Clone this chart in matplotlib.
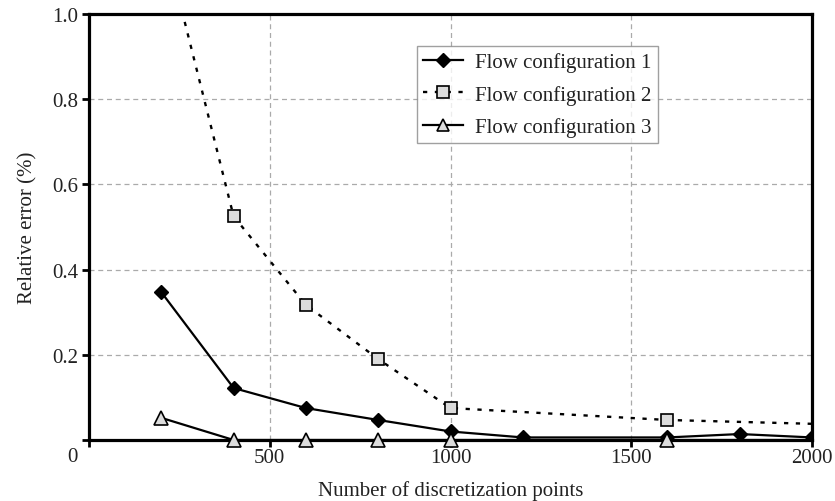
import matplotlib
matplotlib.use("Agg")
import matplotlib.pyplot as plt

plt.rcParams['font.family'] = ['Liberation Serif', 'DejaVu Serif']

# Data
x1 = [200, 400, 600, 800, 1000, 1200, 1600, 1800, 2000]
y1 = [0.347, 0.122, 0.075, 0.047, 0.020, 0.006, 0.006, 0.014, 0.006]
x2 = [200, 400, 600, 800, 1000, 1600, 2000]
y2 = [1.20, 0.525, 0.317, 0.190, 0.075, 0.047, 0.038]
x3 = [200, 400, 600, 800, 1000, 1600, 2000]
y3 = [0.052, 0.0, 0.0, 0.0, 0.0, 0.0, 0.0]
labels = ["Flow configuration 1", "Flow configuration 2", "Flow configuration 3"]
xticks = [0, 500, 1000, 1500, 2000]
xticklabels = ["", "500", "1000", "1500", "2000"]
yticks = [0, 0.2, 0.4, 0.6, 0.8, 1.0]
yticklabels = ["", "0.2", "0.4", "0.6", "0.8", "1.0"]
xlabel = "Number of discretization points"
ylabel = "Relative error (%)"

txt = '#222222'
fs = 15

fig = plt.figure(figsize=(8.35, 5.02), dpi=100)
ax = fig.add_axes([89/835, 1-441/502, (812-89)/835, (441-15)/502])

ax.plot(x1, y1, color='black', lw=1.6, marker='D', ms=7.5, mfc='black', mec='black',
        label=labels[0], zorder=4)
ax.plot(x2, y2, color='black', lw=1.7, ls=(0, (1.8, 3.2)), marker='s', ms=9,
        mfc='#dcdcdc', mec='black', mew=1.2, markevery=[1, 2, 3, 4, 5],
        label=labels[1], zorder=3)
# markers of series 3 sit on the x axis, so they are drawn unclipped
ax.plot(x3, y3, color='black', lw=1.6, ls='none', marker='^', ms=10, mfc='#dcdcdc',
        mec='black', mew=1.2, markevery=[0, 1, 2, 3, 4, 5], zorder=6, clip_on=False)
ax.plot(x3, y3, color='black', lw=1.6, marker='^', ms=10, mfc='#dcdcdc', mec='black',
        mew=1.2, markevery=[], label=labels[2], zorder=5)

ax.set_xlim(0, 2000)
ax.set_ylim(0, 1.0)
ax.set_xticks(xticks)
ax.set_xticklabels(xticklabels)
ax.set_yticks(yticks)
ax.set_yticklabels(yticklabels)

ax.grid(True, color='#aaaaaa', ls=(0, (4, 3)), lw=0.9)
ax.set_axisbelow(True)

for s in ax.spines.values():
    s.set_linewidth(2.3)
    s.set_color('black')
ax.tick_params(direction='out', length=5, width=2, colors='black',
               labelcolor=txt, labelsize=fs)
ax.tick_params(axis='x', pad=1)
ax.tick_params(axis='y', pad=3)

ax.set_xlabel(xlabel, fontsize=fs, color=txt, labelpad=9)
ax.set_ylabel(ylabel, fontsize=fs, color=txt, labelpad=10)

fig.text(72/835, 1-458/502, "0", fontsize=fs, color=txt, ha='center', va='center')

h1, h2 = ax.get_legend_handles_labels()[0][:2]
from matplotlib.lines import Line2D
h3 = Line2D([], [], color='black', lw=1.6, marker='^', ms=8, mfc='#dcdcdc',
            mec='black', mew=1.2)
leg = ax.legend([h1, h2, h3], labels, loc='upper left',
                bbox_to_anchor=((417-89)/723, (441-47)/426),
                fontsize=fs, frameon=True, fancybox=False, edgecolor='#888888',
                handlelength=1.9, borderpad=0.3, labelspacing=0.6, handletextpad=0.6,
                borderaxespad=0)
leg.get_frame().set_linewidth(1.0)
for t in leg.get_texts():
    t.set_color(txt)

fig.savefig("out.png", dpi=100)
